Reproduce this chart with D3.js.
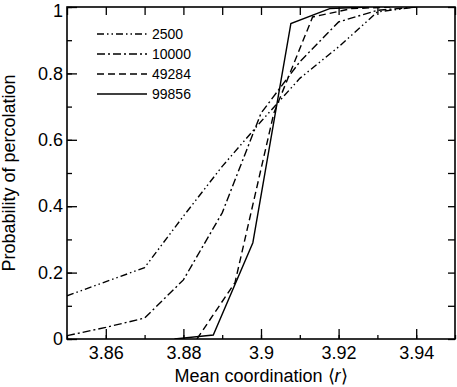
<!DOCTYPE html>
<html>
<head>
<meta charset="utf-8">
<script src="https://cdn.jsdelivr.net/npm/d3@7"></script>
<style>
  body { margin: 0; background: #fff; }
  svg text { font-family: "Liberation Sans", Arial, sans-serif; fill: #000; }
</style>
</head>
<body>
<div id="chart"></div>
<script>
// Data
const seriesNames = ["2500", "10000", "49284", "99856"];
const s2500 = [[3.85, 0.13], [3.87, 0.215], [3.88, 0.37], [3.89, 0.52], [3.90, 0.655], [3.91, 0.785], [3.92, 0.88], [3.93, 0.985], [3.94, 1.0]];
const s10000 = [[3.85, 0.01], [3.86, 0.035], [3.87, 0.063], [3.88, 0.178], [3.89, 0.38], [3.90, 0.68], [3.91, 0.835], [3.92, 0.955], [3.93, 0.99], [3.94, 1.0]];
const s49284 = [[3.8835, 0.0], [3.8933, 0.17], [3.9033, 0.68], [3.9133, 0.97], [3.9233, 0.995], [3.9333, 1.0]];
const s99856 = [[3.8777, 0.0], [3.8877, 0.012], [3.8979, 0.29], [3.9077, 0.95], [3.9177, 0.995], [3.9277, 1.0]];
const xTickLabels = [3.86, 3.88, 3.9, 3.92, 3.94];
const yTickLabels = [0, 0.2, 0.4, 0.6, 0.8, 1];
const dashes = ["7,3,1.5,3,1.5,3", "8,3,2,3", "7,4", null];

const margin = { top: 7, right: 2, bottom: 48, left: 67 },
    width = 457 - margin.left - margin.right,
    height = 387 - margin.top - margin.bottom;

const svg = d3.select("#chart")
    .append("svg")
    .attr("width", 457)
    .attr("height", 387);

const chartSvg = svg.append("g")
    .attr("transform", `translate(${margin.left}, ${margin.top})`);

const x = d3.scaleLinear().domain([3.85, 3.95]).range([0, width]);
const y = d3.scaleLinear().domain([0, 1]).range([height, 0]);

chartSvg.append("clipPath").attr("id", "clip")
    .append("rect").attr("width", width).attr("height", height);

// Lines
const line = d3.line().x(d => x(d[0])).y(d => y(d[1]));
const allSeries = [s2500, s10000, s49284, s99856];
allSeries.forEach((s, i) => {
    chartSvg.append("path")
        .datum(s)
        .attr("clip-path", "url(#clip)")
        .attr("fill", "none")
        .attr("stroke", "#000")
        .attr("stroke-width", 1.4)
        .attr("stroke-dasharray", dashes[i])
        .attr("d", line);
});

// Axes: inward ticks on all four sides
const xMinor = d3.range(3.85, 3.9501, 0.01).map(v => +v.toFixed(2));
const yMinor = d3.range(0, 1.0001, 0.1).map(v => +v.toFixed(1));

function styleAxis(g) {
    g.select(".domain").remove();
    g.selectAll("line").attr("stroke", "#000").attr("stroke-width", 1.3);
    g.selectAll("text").style("font-size", "18px");
}

chartSvg.append("g")
    .attr("transform", `translate(0,${height})`)
    .call(d3.axisBottom(x).tickValues(xMinor).tickSize(-4).tickFormat(""))
    .call(styleAxis);
chartSvg.append("g")
    .attr("transform", `translate(0,${height})`)
    .call(d3.axisBottom(x).tickValues(xTickLabels).tickSize(-10).tickPadding(7).tickFormat(d3.format("")))
    .call(styleAxis);
chartSvg.append("g")
    .call(d3.axisTop(x).tickValues(xMinor).tickSize(-8).tickFormat(""))
    .call(styleAxis);

chartSvg.append("g")
    .call(d3.axisLeft(y).tickValues(yMinor).tickSize(-5).tickFormat(""))
    .call(styleAxis);
const yAx = chartSvg.append("g")
    .call(d3.axisLeft(y).tickValues(yTickLabels).tickSize(-10).tickPadding(4).tickFormat(d3.format("")))
    .call(styleAxis);
yAx.selectAll(".tick").filter(d => d === 1).select("text").attr("dy", "0.5em");
chartSvg.append("g")
    .attr("transform", `translate(${width},0)`)
    .call(d3.axisRight(y).tickValues(yMinor).tickSize(-7).tickFormat(""))
    .call(styleAxis);

// Frame
chartSvg.append("rect")
    .attr("width", width)
    .attr("height", height)
    .attr("fill", "none")
    .attr("stroke", "#000")
    .attr("stroke-width", 1.6);

// Legend
const legend = chartSvg.append("g").attr("transform", "translate(30, 27)");
seriesNames.forEach((name, i) => {
    const ly = i * 20;
    legend.append("line")
        .attr("x1", 0).attr("x2", 50)
        .attr("y1", ly).attr("y2", ly)
        .attr("stroke", "#000")
        .attr("stroke-width", 1.4)
        .attr("stroke-dasharray", dashes[i]);
    legend.append("text")
        .attr("x", 55).attr("y", ly + 5)
        .style("font-size", "14px")
        .text(name);
});

// Axis labels
svg.append("text")
    .attr("x", margin.left + width / 2)
    .attr("y", 382)
    .attr("text-anchor", "middle")
    .style("font-size", "18px")
    .html("Mean coordination \u27E8<tspan font-style='italic'>r</tspan>\u27E9");

svg.append("text")
    .attr("transform", `translate(15, ${margin.top + height / 2}) rotate(-90)`)
    .attr("text-anchor", "middle")
    .style("font-size", "18px")
    .text("Probability of percolation");
</script>
</body>
</html>
